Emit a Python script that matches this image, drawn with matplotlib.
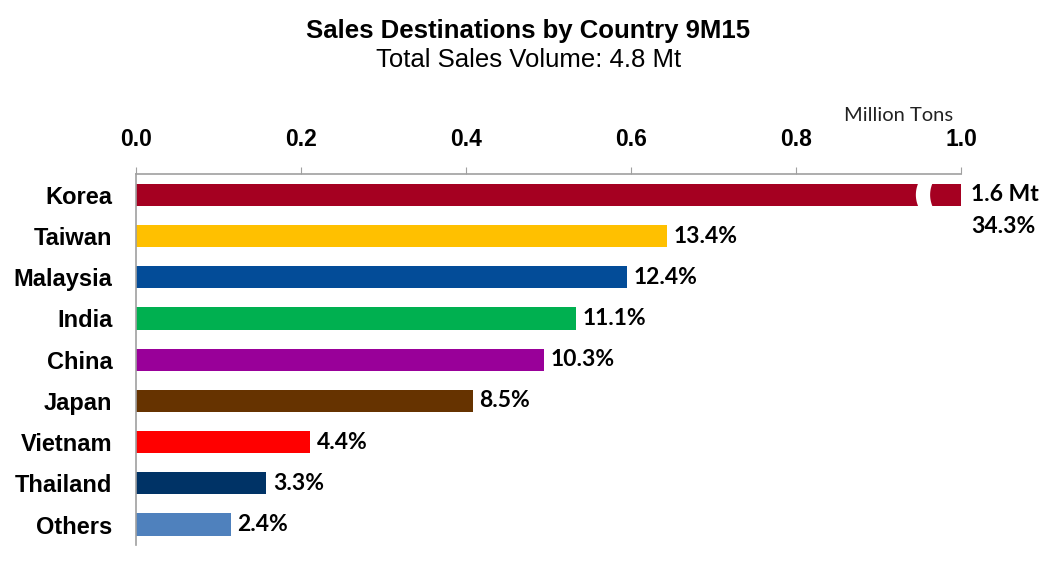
import matplotlib
matplotlib.use("Agg")
import matplotlib.pyplot as plt
from matplotlib.patches import Polygon
import numpy as np

countries = ["Korea", "Taiwan", "Malaysia", "India", "China", "Japan", "Vietnam", "Thailand", "Others"]
volumes = [1.646, 0.643, 0.595, 0.533, 0.494, 0.408, 0.211, 0.158, 0.115]  # million tons
shares = ["34.3%", "13.4%", "12.4%", "11.1%", "10.3%", "8.5%", "4.4%", "3.3%", "2.4%"]
colors = ["#A50021", "#FFC000", "#034C98", "#00B050", "#990099",
          "#663300", "#FF0000", "#003366", "#4F81BD"]
ticks = [0.0, 0.2, 0.4, 0.6, 0.8, 1.0]
xmax = 1.0

fig = plt.figure(figsize=(10.4, 5.62), dpi=100)
ax = fig.add_axes([0.1308, 0.030, 0.7933, 0.660])

y = np.arange(len(countries))
shown = [min(v, xmax) for v in volumes]
ax.barh(y, shown, height=0.54, color=colors)
ax.set_ylim(len(countries) - 0.5, -0.5)
ax.set_xlim(0, xmax)

lab_font = dict(fontsize=16.5, fontweight="bold", family="Lato")

# break mark on the clipped bar
for i, v in enumerate(volumes):
    if v > xmax:
        t = np.linspace(-1, 1, 30)
        hh = 0.31
        bow = -0.0035
        left = [(0.9487 + bow * (1 - s ** 2), i + s * hh) for s in t]
        right = [(0.9660 + bow * (1 - s ** 2), i - s * hh) for s in t]
        ax.add_patch(Polygon(left + right, closed=True, facecolor="white",
                             edgecolor="none", zorder=3))
        ax.text(xmax + 0.012, i, "1.6 Mt", va="center", ha="left",
                clip_on=False, **lab_font)
        ax.text(xmax + 0.012, i + 0.78, shares[i], va="center", ha="left",
                clip_on=False, **lab_font)
    else:
        ax.text(v + 0.008, i, shares[i], va="center", ha="left", **lab_font)

ax.xaxis.tick_top()
ax.set_xticks(ticks)
ax.set_xticklabels([f"{t:.1f}" for t in ticks], fontsize=16.5, fontweight="bold",
                   family="Liberation Sans")
ax.tick_params(axis="x", length=5, color="#A0A0A0", pad=12)
ax.set_yticks(y)
ax.set_yticklabels(countries, fontsize=17, fontweight="bold", family="Liberation Sans")
ax.tick_params(axis="y", length=0, pad=17)

for side in ["right", "bottom"]:
    ax.spines[side].set_visible(False)
for side in ["top", "left"]:
    ax.spines[side].set_color("#A0A0A0")
    ax.spines[side].set_linewidth(1.2)

fig.text(0.508, 0.944, "Sales Destinations by Country 9M15", ha="center", va="center",
         fontsize=18.5, fontweight="bold", family="Liberation Sans")
fig.text(0.508, 0.894, "Total Sales Volume: 4.8 Mt", ha="center", va="center",
         fontsize=18.5, family="Liberation Sans")
fig.text(0.864, 0.794, "Million Tons", ha="center", va="center", fontsize=14.5,
         family="Lato", color="#222222")

fig.savefig("out.png", dpi=100)
